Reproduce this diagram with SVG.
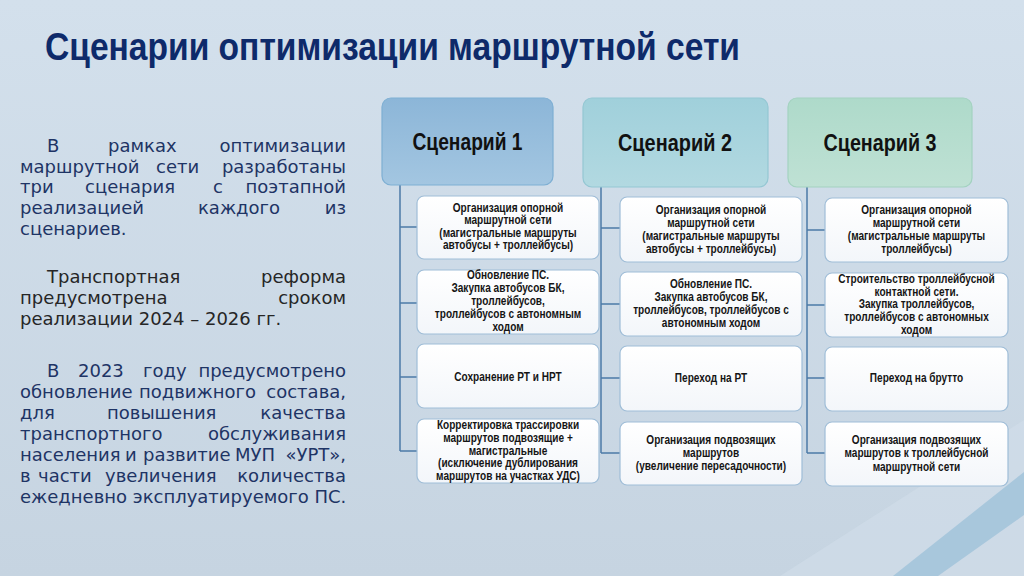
<svg xmlns="http://www.w3.org/2000/svg" width="1024" height="576" viewBox="0 0 1024 576">
<defs>
<linearGradient id="bg" x1="0" y1="0" x2="0" y2="1">
<stop offset="0" stop-color="#d3e0ec"/><stop offset="1" stop-color="#c6d4e1"/>
</linearGradient>
<linearGradient id="h1" x1="0" y1="0" x2="0" y2="1">
<stop offset="0" stop-color="#8cb6d8"/><stop offset="1" stop-color="#a3c6e1"/>
</linearGradient>
<linearGradient id="h2" x1="0" y1="0" x2="0" y2="1">
<stop offset="0" stop-color="#a0d0db"/><stop offset="1" stop-color="#b2d9e1"/>
</linearGradient>
<linearGradient id="h3" x1="0" y1="0" x2="0" y2="1">
<stop offset="0" stop-color="#aedaca"/><stop offset="1" stop-color="#bfe1d4"/>
</linearGradient>
<linearGradient id="bx" x1="0" y1="0" x2="0" y2="1">
<stop offset="0" stop-color="#ffffff"/><stop offset="1" stop-color="#f3f6fa"/>
</linearGradient>
<style>
.hd{stroke-width:1.2}
.box{fill:url(#bx);stroke:#9fbdd7;stroke-width:1.2}
.bt{font-family:"Liberation Sans",Arial,sans-serif;font-weight:bold;font-size:12px;fill:#151515;text-anchor:middle}
.ht{font-family:"Liberation Sans",Arial,sans-serif;font-weight:bold;font-size:23px;fill:#111;text-anchor:middle}
.lt{font-family:"DejaVu Sans",Verdana,sans-serif;font-size:18px}
.nv{fill:#1e3465}
.dk{fill:#262626}
.conn line{stroke:#4b7aa7;stroke-width:1.5;fill:none}
</style>
</defs>
<rect width="1024" height="576" fill="url(#bg)"/>
<polygon points="780,576 1024,420 1024,576" fill="#d3e0eb" opacity="0.5"/>
<polygon points="893,576 1024,472 1024,515 938,576" fill="#a8c7dc"/>

<text x="45" y="60" textLength="695" lengthAdjust="spacingAndGlyphs" font-family="Liberation Sans,Arial,sans-serif" font-weight="bold" font-size="38" fill="#0e2a6a">Сценарии оптимизации маршрутной сети</text>

<g id="left-text" class="lt">
<text class="nv" y="152"><tspan x="47">В</tspan><tspan x="108">рамках</tspan><tspan x="346" text-anchor="end">оптимизации</tspan></text>
<text class="nv" y="173"><tspan x="20">маршрутной</tspan><tspan x="156">сети</tspan><tspan x="346" text-anchor="end">разработаны</tspan></text>
<text class="nv" y="193"><tspan x="20">три</tspan><tspan x="85">сценария</tspan><tspan x="213">с</tspan><tspan x="346" text-anchor="end">поэтапной</tspan></text>
<text class="nv" y="214"><tspan x="20">реализацией</tspan><tspan x="198">каждого</tspan><tspan x="346" text-anchor="end">из</tspan></text>
<text class="nv" y="235" x="20">сценариев.</text>

<text class="dk" y="283"><tspan x="47">Транспортная</tspan><tspan x="346" text-anchor="end">реформа</tspan></text>
<text class="dk" y="304"><tspan x="20">предусмотрена</tspan><tspan x="346" text-anchor="end">сроком</tspan></text>
<text class="dk" y="325" x="20">реализации 2024 – 2026 гг.</text>

<text class="nv" y="377"><tspan x="47">В</tspan><tspan x="78">2023</tspan><tspan x="143">году</tspan><tspan x="346" text-anchor="end">предусмотрено</tspan></text>
<text class="nv" y="398"><tspan x="20">обновление</tspan><tspan x="139">подвижного</tspan><tspan x="346" text-anchor="end">состава,</tspan></text>
<text class="nv" y="419"><tspan x="20">для</tspan><tspan x="107">повышения</tspan><tspan x="346" text-anchor="end">качества</tspan></text>
<text class="nv" y="440"><tspan x="20">транспортного</tspan><tspan x="346" text-anchor="end">обслуживания</tspan></text>
<text class="nv" y="461"><tspan x="20">населения</tspan><tspan x="125">и</tspan><tspan x="143">развитие</tspan><tspan x="235">МУП</tspan><tspan x="346" text-anchor="end">«УРТ»,</tspan></text>
<text class="nv" y="482"><tspan x="20">в</tspan><tspan x="38">части</tspan><tspan x="105">увеличения</tspan><tspan x="346" text-anchor="end">количества</tspan></text>
<text class="nv" y="503" x="20">ежедневно эксплуатируемого ПС.</text>
</g>

<g id="connectors" class="conn">
<line x1="400" y1="185" x2="400" y2="451"/>
<line x1="400" y1="227" x2="417" y2="227"/>
<line x1="400" y1="303" x2="417" y2="303"/>
<line x1="400" y1="377" x2="417" y2="377"/>
<line x1="400" y1="451" x2="417" y2="451"/>
<line x1="601" y1="187" x2="601" y2="453"/>
<line x1="601" y1="228" x2="620" y2="228"/>
<line x1="601" y1="304" x2="620" y2="304"/>
<line x1="601" y1="378" x2="620" y2="378"/>
<line x1="601" y1="453" x2="620" y2="453"/>
<line x1="807" y1="187" x2="807" y2="453"/>
<line x1="807" y1="230" x2="825" y2="230"/>
<line x1="807" y1="305" x2="825" y2="305"/>
<line x1="807" y1="378" x2="825" y2="378"/>
<line x1="807" y1="453" x2="825" y2="453"/>
</g>

<g id="scenario1">
<rect class="hd" x="382" y="98" width="171" height="87" rx="9" fill="url(#h1)" stroke="#7eafd3"/>
<text class="ht" x="467.5" y="150" textLength="110" lengthAdjust="spacingAndGlyphs">Сценарий 1</text>
</g>
<g id="scenario2">
<rect class="hd" x="583" y="98" width="185" height="89" rx="9" fill="url(#h2)" stroke="#94c7d3"/>
<text class="ht" x="675" y="151" textLength="114" lengthAdjust="spacingAndGlyphs">Сценарий 2</text>
</g>
<g id="scenario3">
<rect class="hd" x="788" y="98" width="184" height="89" rx="9" fill="url(#h3)" stroke="#a3d2c0"/>
<text class="ht" x="880" y="151" textLength="113" lengthAdjust="spacingAndGlyphs">Сценарий 3</text>
</g>

<g id="s1-box1">
<rect class="box" x="417" y="196" width="182" height="63" rx="7"/>
<g transform="translate(508 0) scale(0.84 1)"><text class="bt" x="0"><tspan x="0" y="212">Организация опорной</tspan><tspan x="0" y="224.5">маршрутной сети</tspan><tspan x="0" y="237">(магистральные маршруты</tspan><tspan x="0" y="249.5">автобусы + троллейбусы)</tspan></text></g>
</g>
<g id="s1-box2">
<rect class="box" x="417" y="270" width="182" height="64" rx="7"/>
<g transform="translate(508 0) scale(0.84 1)"><text class="bt" x="0"><tspan x="0" y="279.5">Обновление ПС.</tspan><tspan x="0" y="292.5">Закупка автобусов БК,</tspan><tspan x="0" y="305.5">троллейбусов,</tspan><tspan x="0" y="318.5">троллейбусов с автономным</tspan><tspan x="0" y="331.5">ходом</tspan></text></g>
</g>
<g id="s1-box3">
<rect class="box" x="417" y="344" width="182" height="64" rx="7"/>
<g transform="translate(508 0) scale(0.84 1)"><text class="bt" x="0" y="381">Сохранение РТ и НРТ</text></g>
</g>
<g id="s1-box4">
<rect class="box" x="417" y="419" width="182" height="64" rx="7"/>
<g transform="translate(508 0) scale(0.84 1)"><text class="bt" x="0"><tspan x="0" y="429">Корректировка трассировки</tspan><tspan x="0" y="442">маршрутов подвозящие +</tspan><tspan x="0" y="455">магистральные</tspan><tspan x="0" y="467.5">(исключение дублирования</tspan><tspan x="0" y="480">маршрутов на участках УДС)</tspan></text></g>
</g>

<g id="s2-box1">
<rect class="box" x="620" y="197" width="182" height="65" rx="7"/>
<g transform="translate(711 0) scale(0.84 1)"><text class="bt" x="0"><tspan x="0" y="214">Организация опорной</tspan><tspan x="0" y="227">маршрутной сети</tspan><tspan x="0" y="240">(магистральные маршруты</tspan><tspan x="0" y="253">автобусы + троллейбусы)</tspan></text></g>
</g>
<g id="s2-box2">
<rect class="box" x="620" y="272" width="182" height="64" rx="7"/>
<g transform="translate(711 0) scale(0.84 1)"><text class="bt" x="0"><tspan x="0" y="288">Обновление ПС.</tspan><tspan x="0" y="301">Закупка автобусов БК,</tspan><tspan x="0" y="314.5">троллейбусов, троллейбусов с</tspan><tspan x="0" y="327">автономным ходом</tspan></text></g>
</g>
<g id="s2-box3">
<rect class="box" x="620" y="346" width="182" height="65" rx="7"/>
<g transform="translate(711 0) scale(0.84 1)"><text class="bt" x="0" y="382">Переход на РТ</text></g>
</g>
<g id="s2-box4">
<rect class="box" x="620" y="422" width="182" height="63" rx="7"/>
<g transform="translate(711 0) scale(0.84 1)"><text class="bt" x="0"><tspan x="0" y="444">Организация подвозящих</tspan><tspan x="0" y="457">маршрутов</tspan><tspan x="0" y="470.5">(увеличение пересадочности)</tspan></text></g>
</g>

<g id="s3-box1">
<rect class="box" x="825" y="198" width="183" height="64" rx="7"/>
<g transform="translate(916.5 0) scale(0.84 1)"><text class="bt" x="0"><tspan x="0" y="214">Организация опорной</tspan><tspan x="0" y="227">маршрутной сети</tspan><tspan x="0" y="240.5">(магистральные маршруты</tspan><tspan x="0" y="253">троллейбусы)</tspan></text></g>
</g>
<g id="s3-box2">
<rect class="box" x="825" y="273" width="183" height="64" rx="7"/>
<g transform="translate(916.5 0) scale(0.84 1)"><text class="bt" x="0"><tspan x="0" y="283">Строительство троллейбусной</tspan><tspan x="0" y="296">контактной сети.</tspan><tspan x="0" y="308.5">Закупка троллейбусов,</tspan><tspan x="0" y="321.5">троллейбусов с автономных</tspan><tspan x="0" y="334">ходом</tspan></text></g>
</g>
<g id="s3-box3">
<rect class="box" x="825" y="347" width="183" height="64" rx="7"/>
<g transform="translate(916.5 0) scale(0.84 1)"><text class="bt" x="0" y="382">Переход на брутто</text></g>
</g>
<g id="s3-box4">
<rect class="box" x="825" y="422" width="183" height="64" rx="7"/>
<g transform="translate(916.5 0) scale(0.84 1)"><text class="bt" x="0"><tspan x="0" y="444">Организация подвозящих</tspan><tspan x="0" y="457.5">маршрутов к троллейбусной</tspan><tspan x="0" y="471">маршрутной сети</tspan></text></g>
</g>
</svg>
